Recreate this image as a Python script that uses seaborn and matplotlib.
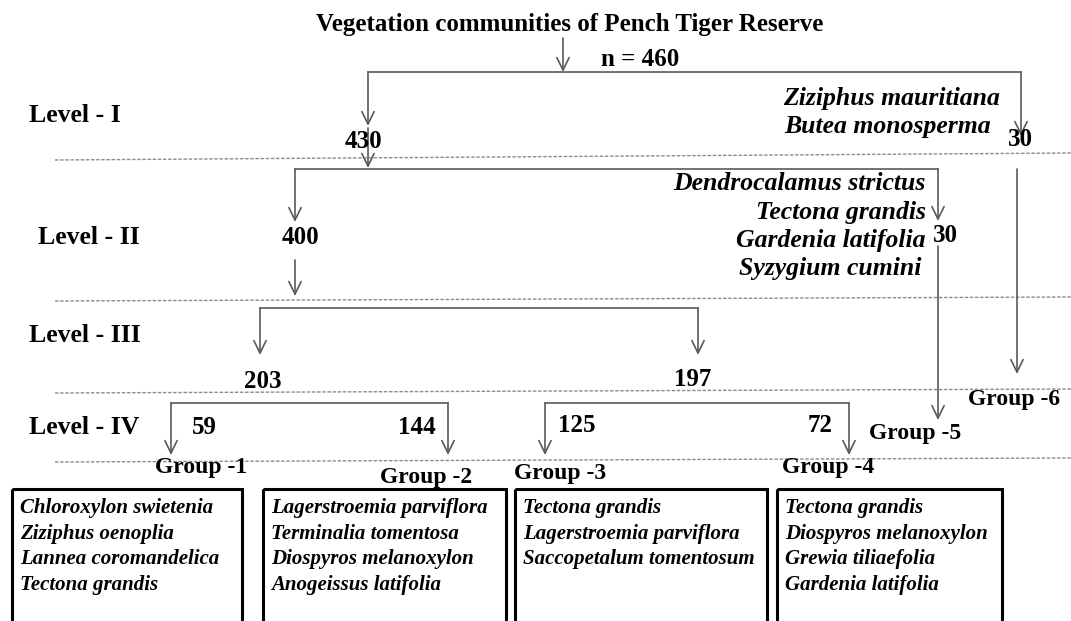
import matplotlib
matplotlib.use('Agg')
import matplotlib.pyplot as plt
from matplotlib.patches import Rectangle
import seaborn as sns

# --- data ---
title = 'Vegetation communities of Pench Tiger Reserve'
levels = ['Level - I', 'Level - II', 'Level - III', 'Level - IV']
total_n = 460
level1_counts = [430, 30]
level2_counts = [400, 30]
level3_counts = [203, 197]
level4_counts = [59, 144, 125, 72]
group_names = ['Group -1', 'Group -2', 'Group -3', 'Group -4', 'Group -5', 'Group -6']
indicators_l1 = ['Ziziphus mauritiana', 'Butea monosperma']
indicators_l2 = ['Dendrocalamus strictus', 'Tectona grandis',
                 'Gardenia latifolia', 'Syzygium cumini']
group_species = [
    ['Chloroxylon swietenia', 'Ziziphus oenoplia', 'Lannea coromandelica', 'Tectona grandis'],
    ['Lagerstroemia parviflora', 'Terminalia tomentosa', 'Diospyros melanoxylon', 'Anogeissus latifolia'],
    ['Tectona grandis', 'Lagerstroemia parviflora', 'Saccopetalum tomentosum'],
    ['Tectona grandis', 'Diospyros melanoxylon', 'Grewia tiliaefolia', 'Gardenia latifolia'],
]

# --- layout (pixel-like coordinates, y grows downwards) ---
level_xy = [(29, 115), (38, 238), (29, 336), (29, 427)]
sep_lines = [(160, 153), (301, 297), (393, 389), (462, 458)]
l1_xy = [(363, 141), (1020, 139)]
l2_xy = [(300, 238), (945, 236)]
l3_xy = [(263, 381), (693, 379)]
l4_xy = [(204, 427), (417, 427), (577, 426), (820, 426)]
group_xy = [(201, 468), (426, 477), (560, 473), (828, 467), (915, 434), (1014, 400)]
ind1_xy = [(1000, 98), (991, 126)]
ind2_xy = [(926, 184), (926, 213), (926, 241), (921, 269)]
box_x = [(12, 242), (263, 506), (515, 767), (777, 1002)]
box_top = 489

LINE = '#5a5a5a'

sns.set_theme(style='white')
plt.rcParams['font.family'] = ['Liberation Serif', 'DejaVu Serif']

fig = plt.figure(figsize=(10.71, 6.21), dpi=100)
ax = fig.add_axes([0, 0, 1, 1])
ax.set_xlim(0, 1071)
ax.set_ylim(621, 0)
ax.axis('off')


def arrow(x, y0, y1):
    ax.annotate('', xy=(x, y1), xytext=(x, y0),
                arrowprops=dict(arrowstyle='->,head_length=0.45,head_width=0.22',
                                color=LINE, lw=1.2, shrinkA=0, shrinkB=0,
                                mutation_scale=20))


def bracket(y, xl, xr, tl, tr):
    ax.plot([xl, xr], [y, y], color=LINE, lw=1.2, solid_capstyle='projecting')
    arrow(xl, y, tl)
    arrow(xr, y, tr)


# dotted separators between levels
for yl, yr in sep_lines:
    ax.plot([55, 1071], [yl, yr], color='#8c8c8c', lw=1, linestyle=(0, (2.5, 1.2)))

# connectors
arrow(563, 38, 72)
bracket(72, 368, 1021, 126, 136)
arrow(368, 128, 168)
bracket(169, 295, 938, 222, 221)
arrow(295, 260, 296)
arrow(938, 246, 420)
arrow(1017, 169, 374)
bracket(308, 260, 698, 355, 355)
bracket(403, 171, 448, 455, 455)
bracket(403, 545, 849, 455, 455)

bold = dict(fontweight='bold', color='black')
bi = dict(fontweight='bold', fontstyle='italic', color='black')

ax.text(570, 24, title, ha='center', va='center', fontsize=18, **bold)
ax.text(640, 60, f'n = {total_n}', ha='center', va='center', fontsize=18, **bold)

for lab, (x, y) in zip(levels, level_xy):
    ax.text(x, y, lab, ha='left', va='center', fontsize=18.5, **bold)

for vals, xy in [(level1_counts, l1_xy), (level2_counts, l2_xy),
                 (level3_counts, l3_xy), (level4_counts, l4_xy)]:
    for v, (x, y) in zip(vals, xy):
        ax.text(x, y, str(v), ha='center', va='center', fontsize=18, **bold)

for g, (x, y) in zip(group_names, group_xy):
    ax.text(x, y, g, ha='center', va='center', fontsize=17, **bold)

for s, (x, y) in zip(indicators_l1, ind1_xy):
    ax.text(x, y, s, ha='right', va='center', fontsize=18.5, **bi)
for s, (x, y) in zip(indicators_l2, ind2_xy):
    ax.text(x, y, s, ha='right', va='center', fontsize=18.5, **bi)

for (xl, xr), species in zip(box_x, group_species):
    ax.add_patch(Rectangle((xl, box_top), xr - xl, 160, fill=False,
                           edgecolor='black', lw=2.2))
    for i, s in enumerate(species):
        ax.text(xl + 8, 508 + 25.7 * i, s, ha='left', va='center',
                fontsize=15, **bi)

fig.savefig('out.png', dpi=100)
